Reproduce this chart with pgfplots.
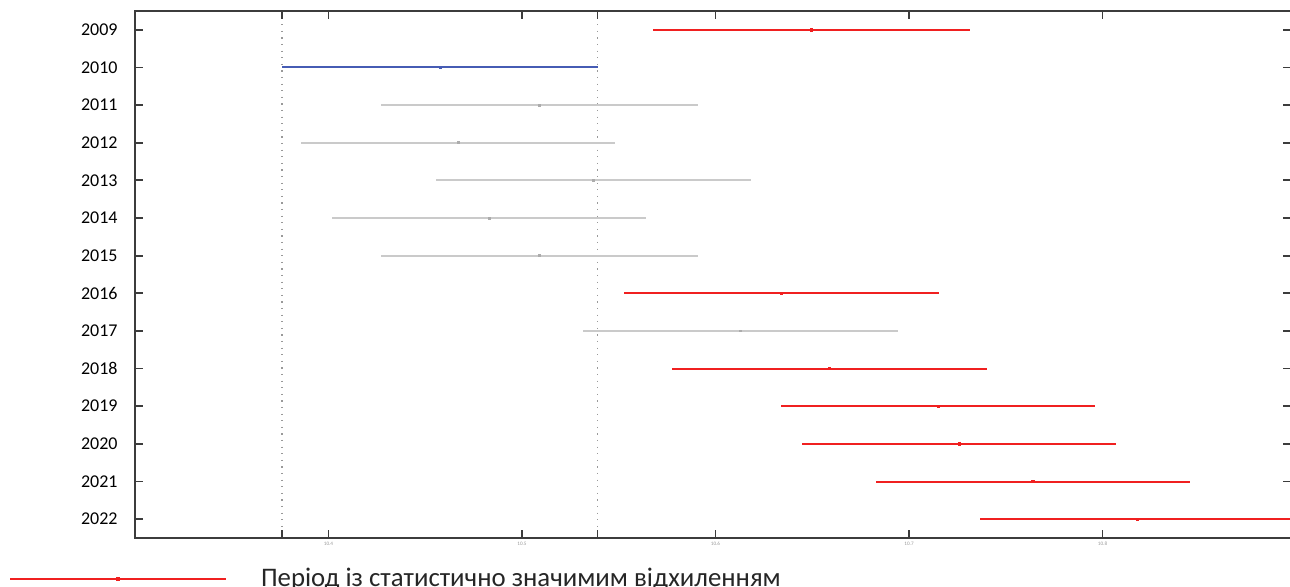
\documentclass[border=0pt]{standalone}
\usepackage{fontspec}
\setmainfont{Carlito}
\usepackage{pgfplots}
\usepackage{pgfplotstable}
\pgfplotsset{compat=1.18}
\definecolor{myred}{RGB}{240,32,32}
\definecolor{myblue}{RGB}{70,92,180}
\definecolor{mygray}{RGB}{202,202,202}
\definecolor{axgray}{RGB}{60,60,60}
\pgfplotsset{mylegimg/.style={legend image code/.code={%
    \draw[mark repeat=2, mark phase=2, ##1] plot coordinates {(0pt,0pt) (54pt,0pt) (108pt,0pt)};
    \path (125pt,0pt);}}}

\pgfplotstableread{
y x e
2009 10.6496 0.0817
2016 10.634 0.0815
2018 10.659 0.0815
2019 10.715 0.0812
2020 10.726 0.0812
2021 10.764 0.0812
2022 10.818 0.0815
}\sig
\pgfplotstableread{
y x e
2010 10.4576 0.0815
}\base
\pgfplotstableread{
y x e
2011 10.509 0.0817
2012 10.467 0.0812
2013 10.537 0.0812
2014 10.483 0.0812
2015 10.509 0.0817
2017 10.613 0.0815
}\nonsig

\begin{document}
\begin{tikzpicture}
\useasboundingbox (0pt,0pt) rectangle (645pt,293.5pt);
\begin{axis}[
  at={(67.5pt,24.5pt)}, anchor=south west,
  scale only axis, width=578pt, height=263.5pt,
  xmin=10.3, xmax=10.8974,
  ymin=2008.5, ymax=2022.5, y dir=reverse,
  ytick={2009,...,2022},
  yticklabels={2009,2010,2011,2012,2013,2014,2015,2016,2017,2018,2019,2020,2021,2022},
  yticklabel style={font=\fontsize{9}{10}\selectfont, text=black, inner sep=0pt, xshift=-8.5pt},
  xtick={10.4,10.5,10.6,10.7,10.8},
  xticklabels={10.4,10.5,10.6,10.7,10.8},
  xticklabel style={font=\fontsize{2.6}{3}\selectfont, text=black!40, inner sep=0pt, yshift=-2pt},
  extra x ticks={10.376,10.539},
  extra x tick labels={},
  extra x tick style={grid=major, major grid style={draw=black!40, line width=0.6pt, dash pattern=on 0.6pt off 2.7pt}},
  tick align=inside, major tick length=4pt,
  tick style={axgray, line width=0.9pt},
  axis line style={axgray, line width=0.9pt},
  legend style={draw=none, fill=none, inner sep=0pt, outer sep=0pt,
    at={(axis description cs:-0.109,-0.077)}, anchor=west,
    font=\fontsize{13.4}{16}\selectfont, text=black!85,
    nodes={inner sep=0pt}},
  legend cell align=left,
]
\addlegendimage{myred, line width=1pt, mark=square*, mark size=0.5pt, mylegimg}
\addlegendentry{Період із статистично значимим відхиленням}

\addplot[only marks, mark=square*, mark size=0.45pt, mygray!85!black, forget plot,
  error bars/.cd, x dir=both, x explicit, error mark=none,
  error bar style={line width=1pt, mygray}]
  table[x=x, y=y, x error=e] {\nonsig};
\addplot[only marks, mark=square*, mark size=0.5pt, myblue, forget plot,
  error bars/.cd, x dir=both, x explicit, error mark=none,
  error bar style={line width=1pt, myblue}]
  table[x=x, y=y, x error=e] {\base};
\addplot[only marks, mark=square*, mark size=0.55pt, myred, forget plot,
  error bars/.cd, x dir=both, x explicit, error mark=none,
  error bar style={line width=1pt, myred}]
  table[x=x, y=y, x error=e] {\sig};
\end{axis}
\end{tikzpicture}
\end{document}
